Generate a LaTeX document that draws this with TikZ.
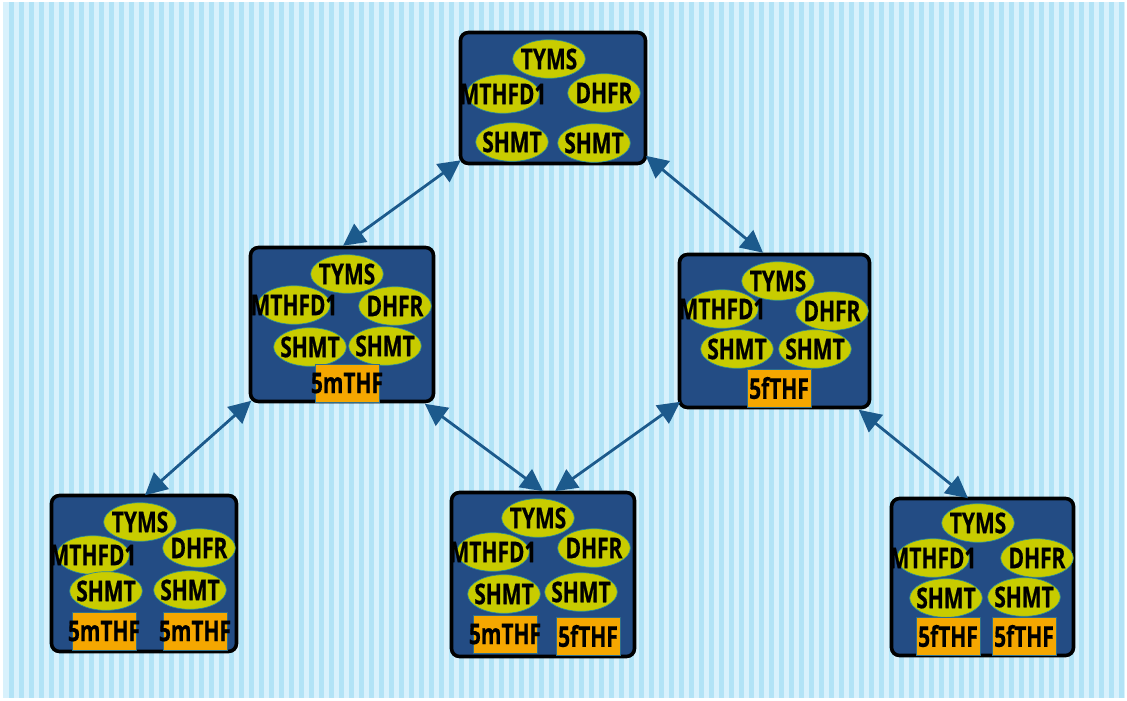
\documentclass[tikz,border=0pt]{standalone}
\usepackage{fontspec}
\usetikzlibrary{shapes.geometric,arrows.meta}
\newfontfamily\lblfont{Open Sans}[FakeStretch=0.73,FakeBold=0.6]
\newcommand\ovl[1]{\makebox[0pt]{#1}}
\definecolor{stripeA}{HTML}{D8F1FC}
\definecolor{stripeB}{HTML}{B2E3F6}
\definecolor{boxblue}{HTML}{234C84}
\definecolor{enzy}{HTML}{C8CC00}
\definecolor{enzline}{HTML}{2A8A9A}
\definecolor{metfill}{HTML}{F5A700}
\definecolor{metline}{HTML}{2F6F8C}
\definecolor{arrowblue}{HTML}{1C5A8C}
\tikzset{
  stage/.style={draw=black, line width=2.7pt, fill=boxblue, rounded corners=6pt, inner sep=0pt},
  enz/.style={ellipse, fill=enzy, draw=enzline, line width=0.5pt, minimum width=54.5pt, minimum height=29pt, inner sep=0pt, font=\lblfont\bfseries\fontsize{21.5}{21.5}\selectfont},
  met/.style={rectangle, fill=metfill, draw=metline, line width=0.5pt, minimum width=48pt, minimum height=28.5pt, inner sep=0pt, font=\lblfont\bfseries\fontsize{21.5}{21.5}\selectfont},
  link/.style={draw=arrowblue, line width=2.1pt, {Triangle[length=16.5pt,width=16.5pt]}-{Triangle[length=16.5pt,width=16.5pt]}}
}
\begin{document}
\begin{tikzpicture}[x=0.75pt,y=-0.75pt]
\useasboundingbox (0,0) rectangle (1127,700);
\fill[white] (0,0) rectangle (1127,700);
\fill[stripeA] (3,2) rectangle (1125,698);
\foreach \i in {0,...,111} { \fill[stripeB] (9+10*\i,2) rectangle (14+10*\i,698); }
% stage boxes
\node[stage, minimum width=138.75pt, minimum height=98.25pt] (top) at (553,98) {};
\node[stage, minimum width=137.25pt, minimum height=115.5pt] (ml) at (342,324.5) {};
\node[stage, minimum width=142.5pt, minimum height=114.75pt] (mr) at (774.5,331) {};
\node[stage, minimum width=138.75pt, minimum height=117pt] (bl) at (144,573.5) {};
\node[stage, minimum width=137.25pt, minimum height=123pt] (bm) at (543,574.5) {};
\node[stage, minimum width=136.5pt, minimum height=117.75pt] (br) at (982.5,577) {};
% top
\node[enz] (t1) at (549,59) {\ovl{TYMS}};
\node[enz] (t2) at (503,94) {\ovl{MTHFD1}};
\node[enz] (t3) at (604,93) {\ovl{DHFR}};
\node[enz] (t4) at (512,142) {\ovl{SHMT}};
\node[enz] (t5) at (594,143) {\ovl{SHMT}};
% mid left
\node[enz] (l1) at (347,274) {\ovl{TYMS}};
\node[enz] (l2) at (294,305) {\ovl{MTHFD1}};
\node[enz] (l3) at (395,306) {\ovl{DHFR}};
\node[enz] (l4) at (310,347) {\ovl{SHMT}};
\node[enz] (l5) at (385,346) {\ovl{SHMT}};
\node[met] (l6) at (347,383) {\ovl{5mTHF}};
% mid right
\node[enz] (r1) at (778,281) {\ovl{TYMS}};
\node[enz] (r2) at (722,309) {\ovl{MTHFD1}};
\node[enz] (r3) at (832,311) {\ovl{DHFR}};
\node[enz] (r4) at (737,349) {\ovl{SHMT}};
\node[enz] (r5) at (815,349) {\ovl{SHMT}};
\node[met] (r6) at (779,388) {\ovl{5fTHF}};
% bottom left
\node[enz] (a1) at (140,522) {\ovl{TYMS}};
\node[enz] (a2) at (93,555) {\ovl{MTHFD1}};
\node[enz] (a3) at (199,548) {\ovl{DHFR}};
\node[enz] (a4) at (106,591) {\ovl{SHMT}};
\node[enz] (a5) at (190,590) {\ovl{SHMT}};
\node[met] (a6) at (104,631) {\ovl{5mTHF}};
\node[met] (a7) at (195,631) {\ovl{5mTHF}};
% bottom middle
\node[enz] (b1) at (538,518) {\ovl{TYMS}};
\node[enz] (b2) at (493,552) {\ovl{MTHFD1}};
\node[enz] (b3) at (594,548) {\ovl{DHFR}};
\node[enz] (b4) at (504,594) {\ovl{SHMT}};
\node[enz] (b5) at (581,592) {\ovl{SHMT}};
\node[met] (b6) at (505,634) {\ovl{5mTHF}};
\node[met] (b7) at (588,636) {\ovl{5fTHF}};
% bottom right
\node[enz] (c1) at (978,523) {\ovl{TYMS}};
\node[enz] (c2) at (933,558) {\ovl{MTHFD1}};
\node[enz] (c3) at (1037,558) {\ovl{DHFR}};
\node[enz] (c4) at (946,598) {\ovl{SHMT}};
\node[enz] (c5) at (1024,597) {\ovl{SHMT}};
\node[met] (c6) at (948,636) {\ovl{5fTHF}};
\node[met] (c7) at (1024,636) {\ovl{5fTHF}};
% connectors
\draw[link] ([shift={(2,-5)}]top.south west) -- ([shift={(1,0)}]ml.north);
\draw[link] ([shift={(-1.5,-9.5)}]top.south east) -- ([shift={(-11.5,0)}]mr.north);
\draw[link] ([shift={(2.5,-2.5)}]ml.south west) -- ([shift={(1,1.5)}]bl.north);
\draw[link] ([shift={(-10.5,0.5)}]ml.south east) -- ([shift={(0,0.5)}]bm.north);
\draw[link] ([shift={(2.5,-7.5)}]mr.south west) -- ([shift={(12,0.5)}]bm.north);
\draw[link] ([shift={(-12.5,0.5)}]mr.south east) -- ([shift={(-14.5,1.5)}]br.north);
\end{tikzpicture}
\end{document}
